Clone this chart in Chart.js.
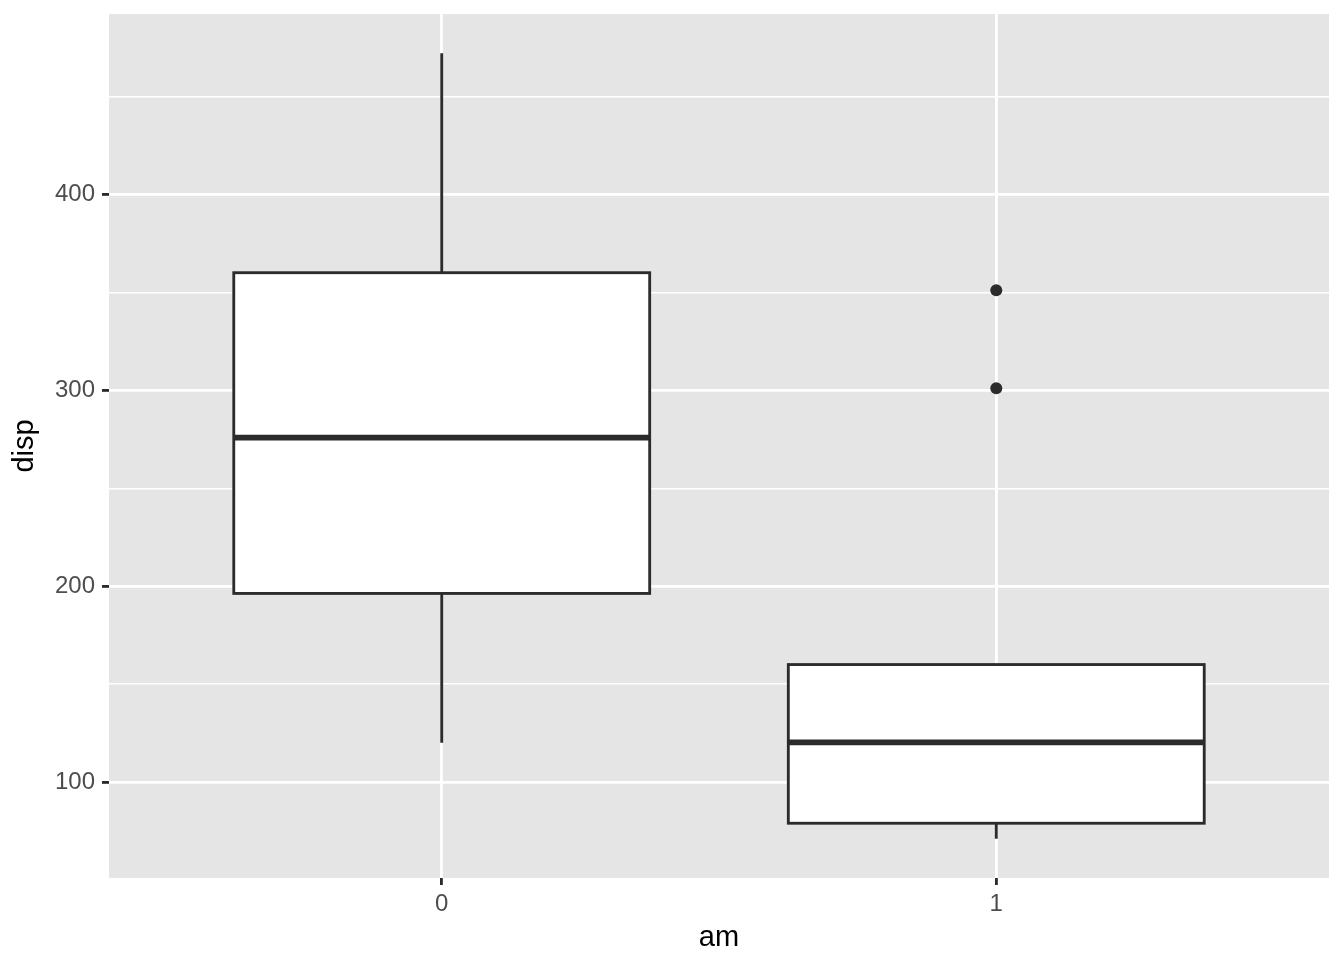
<!DOCTYPE html>
<html>
<head>
<meta charset="utf-8">
<script src="https://cdn.jsdelivr.net/npm/chart.js@4"></script>
<style>
  html, body { margin: 0; padding: 0; background: #fff; }
  canvas { display: block; }
</style>
</head>
<body>
<canvas id="chart" width="1344" height="960"></canvas>
<script>
// box statistics for disp by am (mtcars)
const groups = ['0', '1'];
const lowerWhisker = [120.1, 71.1];
const q1 = [196.3, 79.0];
const median = [275.8, 120.3];
const q3 = [360.0, 160.0];
const upperWhisker = [472.0, 160.0];
const outlierGroup = [1, 1];
const outlierValue = [301.0, 351.0];

const yMajor = [100, 200, 300, 400];
const yMinor = [150, 250, 350, 450];
const yRange = [51.055, 492.045];
const xRange = [-0.6, 1.6];

const INK = '#2b2b2b';
const LINE = 2.84;
const BOX_HALF = 0.375;

// panel background
const panelBg = {
    id: 'panelBg',
    beforeDraw(chart) {
        const { ctx, chartArea: a } = chart;
        ctx.save();
        ctx.fillStyle = '#e5e5e5';
        ctx.fillRect(a.left, a.top, a.right - a.left, a.bottom - a.top);
        ctx.restore();
    }
};

// boxes + whiskers, drawn through the chart scales
const boxes = {
    id: 'boxes',
    beforeDatasetsDraw(chart) {
        const { ctx, chartArea: a, scales: { x, y } } = chart;
        ctx.save();
        ctx.beginPath();
        ctx.rect(a.left, a.top, a.right - a.left, a.bottom - a.top);
        ctx.clip();
        ctx.strokeStyle = INK;
        groups.forEach((g, i) => {
            const cx = x.getPixelForValue(i);
            const xl = x.getPixelForValue(i - BOX_HALF);
            const xr = x.getPixelForValue(i + BOX_HALF);
            const yq1 = y.getPixelForValue(q1[i]);
            const yq3 = y.getPixelForValue(q3[i]);

            // whiskers
            ctx.lineWidth = LINE;
            ctx.beginPath();
            ctx.moveTo(cx, yq3);
            ctx.lineTo(cx, y.getPixelForValue(upperWhisker[i]));
            ctx.moveTo(cx, yq1);
            ctx.lineTo(cx, y.getPixelForValue(lowerWhisker[i]));
            ctx.stroke();

            // box
            ctx.fillStyle = '#ffffff';
            ctx.fillRect(xl, yq3, xr - xl, yq1 - yq3);
            ctx.strokeRect(xl, yq3, xr - xl, yq1 - yq3);

            // median
            const ym = y.getPixelForValue(median[i]);
            ctx.lineWidth = LINE * 2;
            ctx.beginPath();
            ctx.moveTo(xl, ym);
            ctx.lineTo(xr, ym);
            ctx.stroke();
        });
        ctx.restore();
    }
};

new Chart(document.getElementById('chart'), {
    type: 'scatter',
    data: {
        datasets: [{
            data: outlierGroup.map((g, i) => ({ x: g, y: outlierValue[i] })),
            backgroundColor: INK,
            borderColor: INK,
            pointRadius: 6,
            borderWidth: 0
        }]
    },
    options: {
        responsive: false,
        animation: false,
        devicePixelRatio: 1,
        layout: { padding: { top: 14, right: 15, left: 0, bottom: 0 } },
        plugins: { legend: { display: false }, tooltip: { enabled: false } },
        scales: {
            x: {
                type: 'linear',
                min: xRange[0],
                max: xRange[1],
                afterBuildTicks: s => { s.ticks = groups.map((g, i) => ({ value: i })); },
                afterFit: s => { s.height = 82; s.paddingLeft = 0; s.paddingRight = 0; },
                border: { display: false },
                grid: {
                    color: '#ffffff',
                    lineWidth: LINE,
                    tickColor: INK,
                    tickWidth: LINE,
                    tickLength: 7
                },
                ticks: {
                    padding: 5,
                    color: '#4d4d4d',
                    font: { family: 'Liberation Sans', size: 24 },
                    callback: v => groups[v]
                },
                title: {
                    display: true,
                    text: 'am',
                    color: '#000000',
                    font: { family: 'Liberation Sans', size: 29 },
                    padding: { top: 0, bottom: 5 }
                }
            },
            y: {
                min: yRange[0],
                max: yRange[1],
                afterBuildTicks: s => {
                    s.ticks = yMajor.concat(yMinor).sort((p, q) => p - q).map(v => ({ value: v }));
                },
                afterFit: s => { s.width = 109; s.paddingTop = 0; s.paddingBottom = 0; },
                border: { display: false },
                grid: {
                    color: '#ffffff',
                    lineWidth: c => (yMajor.includes(c.tick.value) ? LINE : LINE / 2),
                    tickColor: c => (yMajor.includes(c.tick.value) ? INK : 'rgba(0,0,0,0)'),
                    tickWidth: LINE,
                    tickLength: 7
                },
                ticks: {
                    padding: 7,
                    color: '#4d4d4d',
                    font: { family: 'Liberation Sans', size: 24 },
                    callback: v => (yMajor.includes(v) ? String(v) : '')
                },
                title: {
                    display: true,
                    text: 'disp',
                    color: '#000000',
                    font: { family: 'Liberation Sans', size: 29 },
                    padding: { top: 8, bottom: 0 }
                }
            }
        }
    },
    plugins: [panelBg, boxes]
});
</script>
</body>
</html>
